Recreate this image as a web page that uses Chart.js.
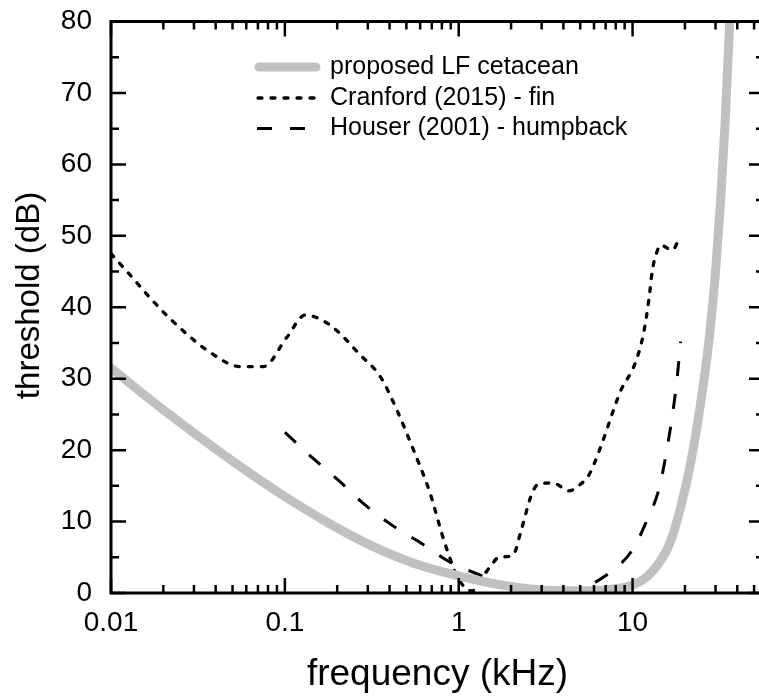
<!DOCTYPE html>
<html>
<head>
<meta charset="utf-8">
<script src="https://cdn.jsdelivr.net/npm/chart.js@4.4.0/dist/chart.umd.min.js"></script>
<style>
  html, body { margin: 0; padding: 0; overflow: hidden; background: #fff; }
  canvas { display: block; }
</style>
</head>
<body>
<canvas id="thresholdChart" width="775" height="700"></canvas>
<script>
// frequency (kHz) / threshold (dB)
const lfFreq = [0.01, 0.0178, 0.0316, 0.0562, 0.1, 0.178, 0.316, 0.562, 1, 1.78, 3.16, 5.62, 8, 10, 12, 14, 16.4, 18.9, 21.5, 24.6, 27.4, 30, 32, 34, 36.5];
const lfThr  = [31.5, 26.6, 22.0, 17.6, 13.5, 9.8, 6.6, 4.1, 2.4, 1.1, 0.4, 0.3, 0.6, 1.1, 2.2, 4.0, 7.0, 12.0, 18.0, 26.5, 35.0, 45.0, 54.5, 65.5, 82.0];

const finFreq = [0.01, 0.0129, 0.0168, 0.0223, 0.0371, 0.0553, 0.0753, 0.1027, 0.131, 0.182, 0.272, 0.354, 0.441, 0.55, 0.686, 0.80, 0.91, 0.95, 1.1, 1.2, 1.35, 1.55, 1.7, 2.05, 2.3, 2.6, 2.85, 3.5, 4.3, 5.0, 5.6, 6.5, 7.3, 8.0, 8.5, 10.4, 11.6, 12.4, 13.0, 13.7, 14.5, 16.9, 18.7];
const finThr  = [47.5, 44.5, 41.3, 38.2, 33.7, 31.7, 31.7, 35.8, 38.9, 37.5, 33.3, 30.3, 25.6, 20.0, 13.9, 8.3, 4.2, 3.0, 0.6, 0.3, 2.0, 4.0, 5.0, 5.3, 9.0, 13.5, 15.2, 15.4, 14.3, 15.2, 16.5, 20.2, 23.7, 26.5, 28.2, 32.3, 36.5, 41.0, 45.2, 47.5, 48.7, 48.0, 49.8];

const humpFreq = [0.1, 0.146, 0.203, 0.2835, 0.413, 0.615, 0.91, 1.33, 1.98, 2.95, 4.57, 7.3, 9.95, 12.1, 14.2, 15.6, 16.9, 17.9, 18.7, 18.9];
const humpThr  = [22.5, 18.8, 15.8, 12.5, 9.5, 6.9, 4.2, 2.5, 0.7, 0.2, 0.4, 2.75, 6.0, 10.2, 14.6, 19.5, 24.7, 29.3, 34.0, 35.2];

const seriesLabels = ['proposed LF cetacean', 'Cranford (2015) - fin', 'Houser (2001) - humpback'];

const xTickValues = [0.01, 0.1, 1, 10];
const xTickLabels = ['0.01', '0.1', '1', '10'];
const yTickValues = [0, 10, 20, 30, 40, 50, 60, 70, 80];
const yTickLabels = ['0', '10', '20', '30', '40', '50', '60', '70', '80'];

const FONT = "'Liberation Sans', Arial, sans-serif";

function toPoints(xs, ys) {
    return xs.map((x, i) => ({ x: x, y: ys[i] }));
}

// box around the plot with inward ticks on all four sides
const frameTicks = {
    id: 'frameTicks',
    afterDatasetsDraw(chart) {
        const { ctx, chartArea: a, scales: { x, y } } = chart;
        ctx.save();
        ctx.strokeStyle = '#000';
        ctx.lineCap = 'butt';
        ctx.lineWidth = 2.5;
        ctx.beginPath();
        // x ticks: 1..9 per decade
        xTickValues.forEach(dec => {
            for (let k = 1; k <= 9; k++) {
                const v = Number((k * dec).toPrecision(3));
                if (v > x.max) break;
                const px = x.getPixelForValue(v);
                const len = k === 1 ? 15 : 8;
                ctx.moveTo(px, a.bottom); ctx.lineTo(px, a.bottom - len);
                ctx.moveTo(px, a.top); ctx.lineTo(px, a.top + len);
            }
        });
        // y ticks every 5
        for (let v = 0; v <= 80; v += 5) {
            const py = y.getPixelForValue(v);
            const len = v % 10 === 0 ? 15 : 8;
            ctx.moveTo(a.left, py); ctx.lineTo(a.left + len, py);
            ctx.moveTo(a.right, py); ctx.lineTo(a.right - len, py);
        }
        ctx.stroke();
        ctx.lineWidth = 3;
        ctx.strokeRect(a.left, a.top, a.right - a.left, a.bottom - a.top);
        ctx.restore();
    }
};

// legend inside the plot and rotated y title
const extras = {
    id: 'extras',
    afterDraw(chart) {
        const ctx = chart.ctx;
        const rows = [67, 98, 128.5];
        ctx.save();
        chart.data.datasets.forEach((ds, i) => {
            const yy = rows[i];
            ctx.beginPath();
            ctx.strokeStyle = ds.borderColor;
            ctx.lineWidth = ds.borderWidth;
            ctx.lineCap = ds.borderCapStyle || 'butt';
            ctx.setLineDash(ds.borderDash || []);
            if (i === 0) {
                ctx.moveTo(259, yy); ctx.lineTo(316, yy);
            } else if (i === 1) {
                ctx.moveTo(258, yy); ctx.lineTo(320, yy);
            } else {
                ctx.moveTo(257, yy); ctx.lineTo(321, yy);
            }
            ctx.stroke();
            ctx.setLineDash([]);
            ctx.fillStyle = '#000';
            ctx.font = '25px ' + FONT;
            ctx.textAlign = 'left';
            ctx.textBaseline = 'middle';
            ctx.fillText(ds.label, 330, yy);
        });
        ctx.translate(39, 295.5);
        ctx.rotate(-Math.PI / 2);
        ctx.font = '33px ' + FONT;
        ctx.textAlign = 'center';
        ctx.textBaseline = 'alphabetic';
        ctx.fillStyle = '#000';
        ctx.fillText('threshold (dB)', 0, 0);
        ctx.restore();
    }
};

window.onload = function () {
    const ctx = document.getElementById('thresholdChart').getContext('2d');
    new Chart(ctx, {
        type: 'line',
        data: {
            datasets: [{
                label: seriesLabels[0],
                data: toPoints(lfFreq, lfThr),
                borderColor: '#c0c0c0',
                borderWidth: 9,
                borderCapStyle: 'round',
                cubicInterpolationMode: 'monotone',
                pointRadius: 0,
                clip: 0
            }, {
                label: seriesLabels[1],
                data: toPoints(finFreq, finThr),
                borderColor: '#000',
                borderWidth: 3.3,
                borderDash: [4, 9],
                borderCapStyle: 'round',
                cubicInterpolationMode: 'monotone',
                pointRadius: 0,
                clip: 0
            }, {
                label: seriesLabels[2],
                data: toPoints(humpFreq, humpThr),
                borderColor: '#000',
                borderWidth: 3,
                borderDash: [15, 18],
                borderCapStyle: 'butt',
                cubicInterpolationMode: 'monotone',
                pointRadius: 0,
                clip: 0
            }]
        },
        options: {
            responsive: false,
            animation: false,
            layout: { padding: { left: 0, top: 21.5, right: 11, bottom: 0 } },
            plugins: {
                legend: { display: false },
                tooltip: { enabled: false }
            },
            scales: {
                x: {
                    type: 'logarithmic',
                    min: 0.01,
                    max: 57,
                    grid: { display: false, drawTicks: false },
                    border: { display: false },
                    afterBuildTicks: s => { s.ticks = xTickValues.map(v => ({ value: v })); },
                    afterFit: s => { s.height = 107; s.paddingLeft = 0; s.paddingRight = 0; },
                    ticks: {
                        autoSkip: false,
                        maxRotation: 0,
                        padding: 13.5,
                        color: '#000',
                        font: { family: FONT, size: 28 },
                        callback: (v, i) => xTickLabels[i]
                    },
                    title: {
                        display: true,
                        text: 'frequency (kHz)',
                        color: '#000',
                        font: { family: FONT, size: 37 },
                        padding: { top: 0, bottom: 3 }
                    }
                },
                y: {
                    min: 0,
                    max: 80,
                    grid: { display: false, drawTicks: false },
                    border: { display: false },
                    afterBuildTicks: s => { s.ticks = yTickValues.map(v => ({ value: v })); },
                    afterFit: s => { s.width = 111; s.paddingTop = 0; s.paddingBottom = 0; },
                    ticks: {
                        padding: 19,
                        color: '#000',
                        font: { family: FONT, size: 28 },
                        callback: (v, i) => yTickLabels[i]
                    }
                }
            }
        },
        plugins: [frameTicks, extras]
    });
};
</script>
</body>
</html>
